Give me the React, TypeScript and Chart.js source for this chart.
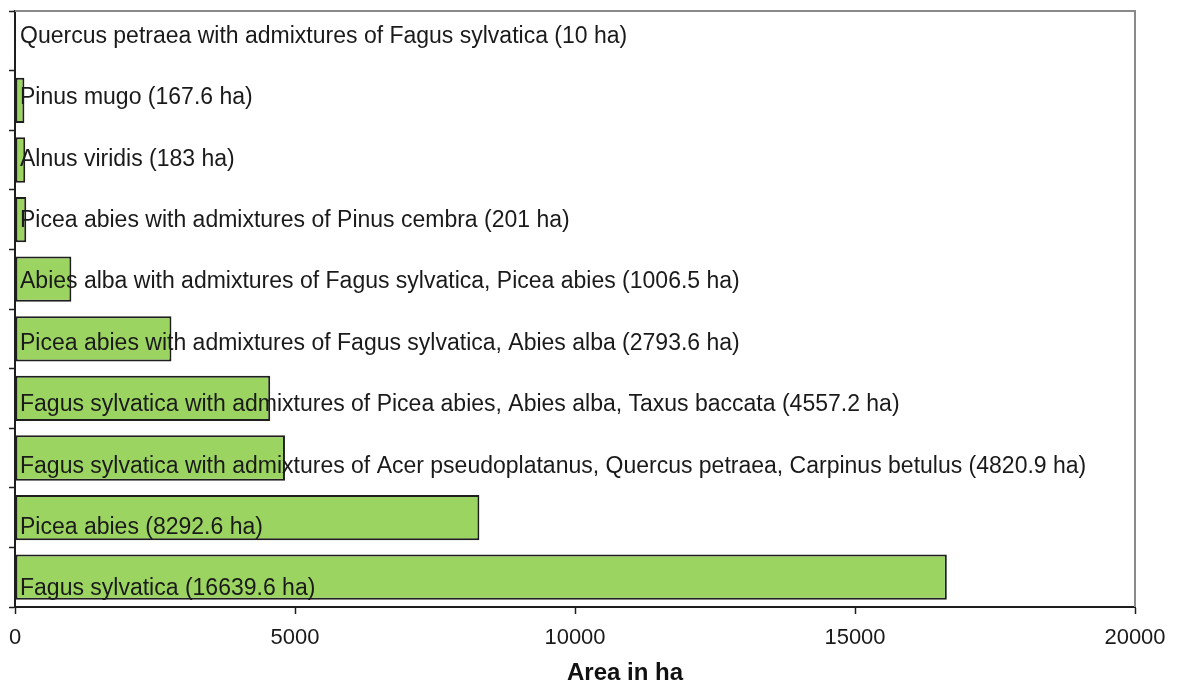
import React, { useEffect, useRef } from "react";
import { Chart, registerables } from "chart.js";

Chart.register(...registerables);

// Categories from top to bottom
const categories: string[] = [
  "Quercus petraea with admixtures of Fagus sylvatica",
  "Pinus mugo",
  "Alnus viridis",
  "Picea abies with admixtures of Pinus cembra",
  "Abies alba with admixtures of Fagus sylvatica, Picea abies",
  "Picea abies with admixtures of Fagus sylvatica, Abies alba",
  "Fagus sylvatica with admixtures of Picea abies, Abies alba, Taxus baccata",
  "Fagus sylvatica with admixtures of Acer pseudoplatanus, Quercus petraea, Carpinus betulus",
  "Picea abies",
  "Fagus sylvatica",
];

const areas: number[] = [10, 167.6, 183, 201, 1006.5, 2793.6, 4557.2, 4820.9, 8292.6, 16639.6];

const xTicks: number[] = [0, 5000, 10000, 15000, 20000];

const axisTitle = "Area in ha";

const FONT = "'Liberation Sans', Arial, sans-serif";

const labelPlugin = {
  id: "barLabels",
  afterDatasetsDraw(chart: any) {
    const { ctx, chartArea, scales } = chart;
    const y = scales.y;
    ctx.save();
    ctx.font = `23px ${FONT}`;
    ctx.fillStyle = "#1a1a1a";
    ctx.textAlign = "left";
    ctx.textBaseline = "alphabetic";
    categories.forEach((name, i) => {
      const cy = y.getPixelForValue(i);
      const text = `${name} (${areas[i]} ha)`;
      ctx.fillText(text, chartArea.left + 5, cy + 2 + i * 1.8);
    });
    ctx.restore();
  },
  afterDraw(chart: any) {
    const { ctx, chartArea } = chart;
    ctx.save();
    ctx.strokeStyle = "#8a8a8a";
    ctx.lineWidth = 2;
    ctx.beginPath();
    ctx.moveTo(chartArea.left, chartArea.top);
    ctx.lineTo(chartArea.right, chartArea.top);
    ctx.lineTo(chartArea.right, chartArea.bottom);
    ctx.stroke();
    ctx.font = `bold 24px ${FONT}`;
    ctx.fillStyle = "#111";
    ctx.textAlign = "center";
    ctx.textBaseline = "middle";
    ctx.fillText(axisTitle, (chartArea.left + chartArea.right) / 2 + 50, 673);
    ctx.restore();
  },
};

export default function App() {
  const canvasRef = useRef<HTMLCanvasElement | null>(null);

  useEffect(() => {
    document.body.style.margin = "0";
    const canvas = canvasRef.current;
    if (!canvas) return;
    const chart = new Chart(canvas, {
      type: "bar",
      data: {
        labels: categories,
        datasets: [
          {
            data: areas,
            backgroundColor: "rgb(155, 212, 96)",
            borderColor: "#1e1e1e",
            borderWidth: 2,
            borderSkipped: false,
            categoryPercentage: 1,
            barPercentage: 0.76,
          },
        ],
      },
      options: {
        indexAxis: "y",
        animation: false,
        responsive: true,
        maintainAspectRatio: false,
        layout: { padding: { top: 11, right: 43, left: 0, bottom: 0 } },
        plugins: {
          legend: { display: false },
          tooltip: { enabled: false },
          title: { display: false },
        },
        scales: {
          x: {
            type: "linear",
            min: 0,
            max: 20000,
            afterBuildTicks: (scale: any) => {
              scale.ticks = xTicks.map((v) => ({ value: v }));
            },
            afterFit: (scale: any) => {
              scale.height = 77;
              scale.paddingLeft = 0;
              scale.paddingRight = 0;
            },
            border: { display: true, color: "#1e1e1e", width: 2 },
            grid: {
              drawOnChartArea: false,
              drawTicks: true,
              tickLength: 7,
              color: "#1e1e1e",
              tickWidth: 1.5,
            },
            ticks: {
              font: { family: FONT, size: 22 },
              color: "#1a1a1a",
              padding: 11,
              maxRotation: 0,
              callback: (v: any) => String(v),
            },
          },
          y: {
            type: "category",
            afterFit: (scale: any) => {
              scale.width = 15;
            },
            border: { display: true, color: "#1e1e1e", width: 2 },
            grid: {
              offset: true,
              drawOnChartArea: false,
              drawTicks: true,
              tickLength: 6,
              color: "#1e1e1e",
              tickWidth: 1.5,
            },
            ticks: { display: false },
          },
        },
      },
      plugins: [labelPlugin],
    });
    return () => chart.destroy();
  }, []);

  return (
    <div style={{ position: "relative", width: 1178, height: 684, background: "#fff" }}>
      <canvas ref={canvasRef} />
    </div>
  );
}
